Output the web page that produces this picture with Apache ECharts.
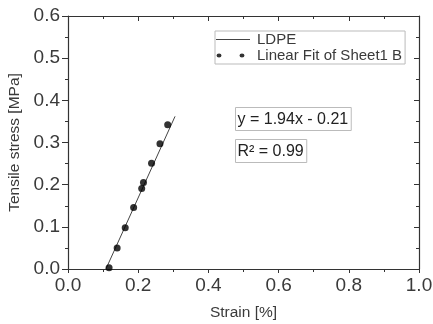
<!DOCTYPE html>
<html><head><meta charset="utf-8">
<script src="https://cdn.jsdelivr.net/npm/echarts@6/dist/echarts.min.js"></script>
<style>html,body{margin:0;padding:0;background:#fff}#c{width:433px;height:324px}</style>
</head><body><div id="c"></div>
<script>
const strain = [0.117, 0.140, 0.163, 0.187, 0.210, 0.215, 0.238, 0.262, 0.284];
const stress = [0.003, 0.050, 0.098, 0.146, 0.191, 0.205, 0.251, 0.297, 0.342];
const lineX = [0.108, 0.305];
const lineY = [0.0, 0.362];
const eqText = 'y = 1.94x - 0.21';
const r2Text = 'R² = 0.99';
const xTicks = [0.0, 0.2, 0.4, 0.6, 0.8, 1.0];
const yTicks = [0.0, 0.1, 0.2, 0.3, 0.4, 0.5, 0.6];

const font = 'Liberation Sans, Arial, sans-serif';
const ax = '#333';
const txt = '#3a3a3a';
const chart = echarts.init(document.getElementById('c'));
const baseX = {type:'value', min:0, max:1, interval:0.2, splitLine:{show:false},
  axisLine:{show:true,onZero:false,lineStyle:{color:ax,width:1.2}}};
const baseY = {type:'value', min:0, max:0.6, interval:0.1, splitLine:{show:false},
  axisLine:{show:true,onZero:false,lineStyle:{color:ax,width:1.2}}};
chart.setOption({
  animation:false,
  grid:{left:68,right:14,top:16,bottom:55,containLabel:false,outerBoundsMode:'none'},
  xAxis:[
    Object.assign({}, baseX, {position:'bottom', name:'Strain [%]', nameLocation:'middle', nameGap:36,
      nameTextStyle:{fontFamily:font,fontSize:15.5,color:txt},
      axisTick:{show:true,inside:false,length:4,lineStyle:{color:ax}},
      minorTick:{show:true,splitNumber:2,length:3,lineStyle:{color:ax}},
      axisLabel:{fontFamily:font,fontSize:19,color:txt,margin:7,
        formatter:v=>{const t=xTicks.find(a=>Math.abs(a-v)<1e-9);return t===undefined?'':t.toFixed(1);}}}),
    Object.assign({}, baseX, {position:'top',
      axisTick:{show:true,inside:true,length:5,lineStyle:{color:ax}},
      minorTick:{show:true,splitNumber:2,length:3,lineStyle:{color:ax}},
      axisLabel:{show:false}})
  ],
  yAxis:[
    Object.assign({}, baseY, {position:'left', name:'Tensile stress [MPa]', nameLocation:'middle', nameGap:44,
      nameTextStyle:{fontFamily:font,fontSize:15.5,color:txt},
      axisTick:{show:true,inside:false,length:6,lineStyle:{color:ax}},
      minorTick:{show:true,splitNumber:2,length:3,lineStyle:{color:ax}},
      axisLabel:{fontFamily:font,fontSize:19,color:txt,margin:8,
        formatter:v=>{const t=yTicks.find(a=>Math.abs(a-v)<1e-9);return t===undefined?'':t.toFixed(1);}}}),
    Object.assign({}, baseY, {position:'right',
      axisTick:{show:true,inside:true,length:5,lineStyle:{color:ax}},
      minorTick:{show:true,splitNumber:2,length:3,lineStyle:{color:ax}},
      axisLabel:{show:false}})
  ],
  legend:{left:215,top:31,orient:'vertical',itemGap:1,itemWidth:34,itemHeight:8,
    padding:[1,3,1,1],borderColor:'#bbb',borderWidth:1,
    textStyle:{fontFamily:font,fontSize:15,color:txt,padding:[0,0,0,2]},
    data:[{name:'LDPE',icon:'path://M0,4L34,4L34,4.8L0,4.8Z',itemStyle:{color:'#444'}},
          {name:'Linear Fit of Sheet1 B',
           icon:'path://M0.5,4a2.5,2 0 1,0 5,0a2.5,2 0 1,0 -5,0M23.5,4a2.5,2 0 1,0 5,0a2.5,2 0 1,0 -5,0M0,0L34,0L34,0.01L0,0.01ZM0,8L34,8L34,8.01L0,8.01Z',
           itemStyle:{color:'#000'}}]},
  series:[
    {name:'LDPE',type:'line',data:lineX.map((x,i)=>[x,lineY[i]]),symbol:'none',
      lineStyle:{color:'#444',width:1},z:2},
    {name:'Linear Fit of Sheet1 B',type:'scatter',data:strain.map((x,i)=>[x,stress[i]]),
      symbolSize:7,itemStyle:{color:'#000'},z:3}
  ],
  graphic:[
    {type:'text',left:235,top:107,style:{text:eqText,font:'16px '+font,fill:'#222',
      padding:[4,3,3,2],borderColor:'#bbb',borderWidth:1}},
    {type:'text',left:235,top:139,style:{text:r2Text,font:'16px '+font,fill:'#222',
      padding:[4,3,3,2],borderColor:'#bbb',borderWidth:1}}
  ]
});
</script></body></html>
